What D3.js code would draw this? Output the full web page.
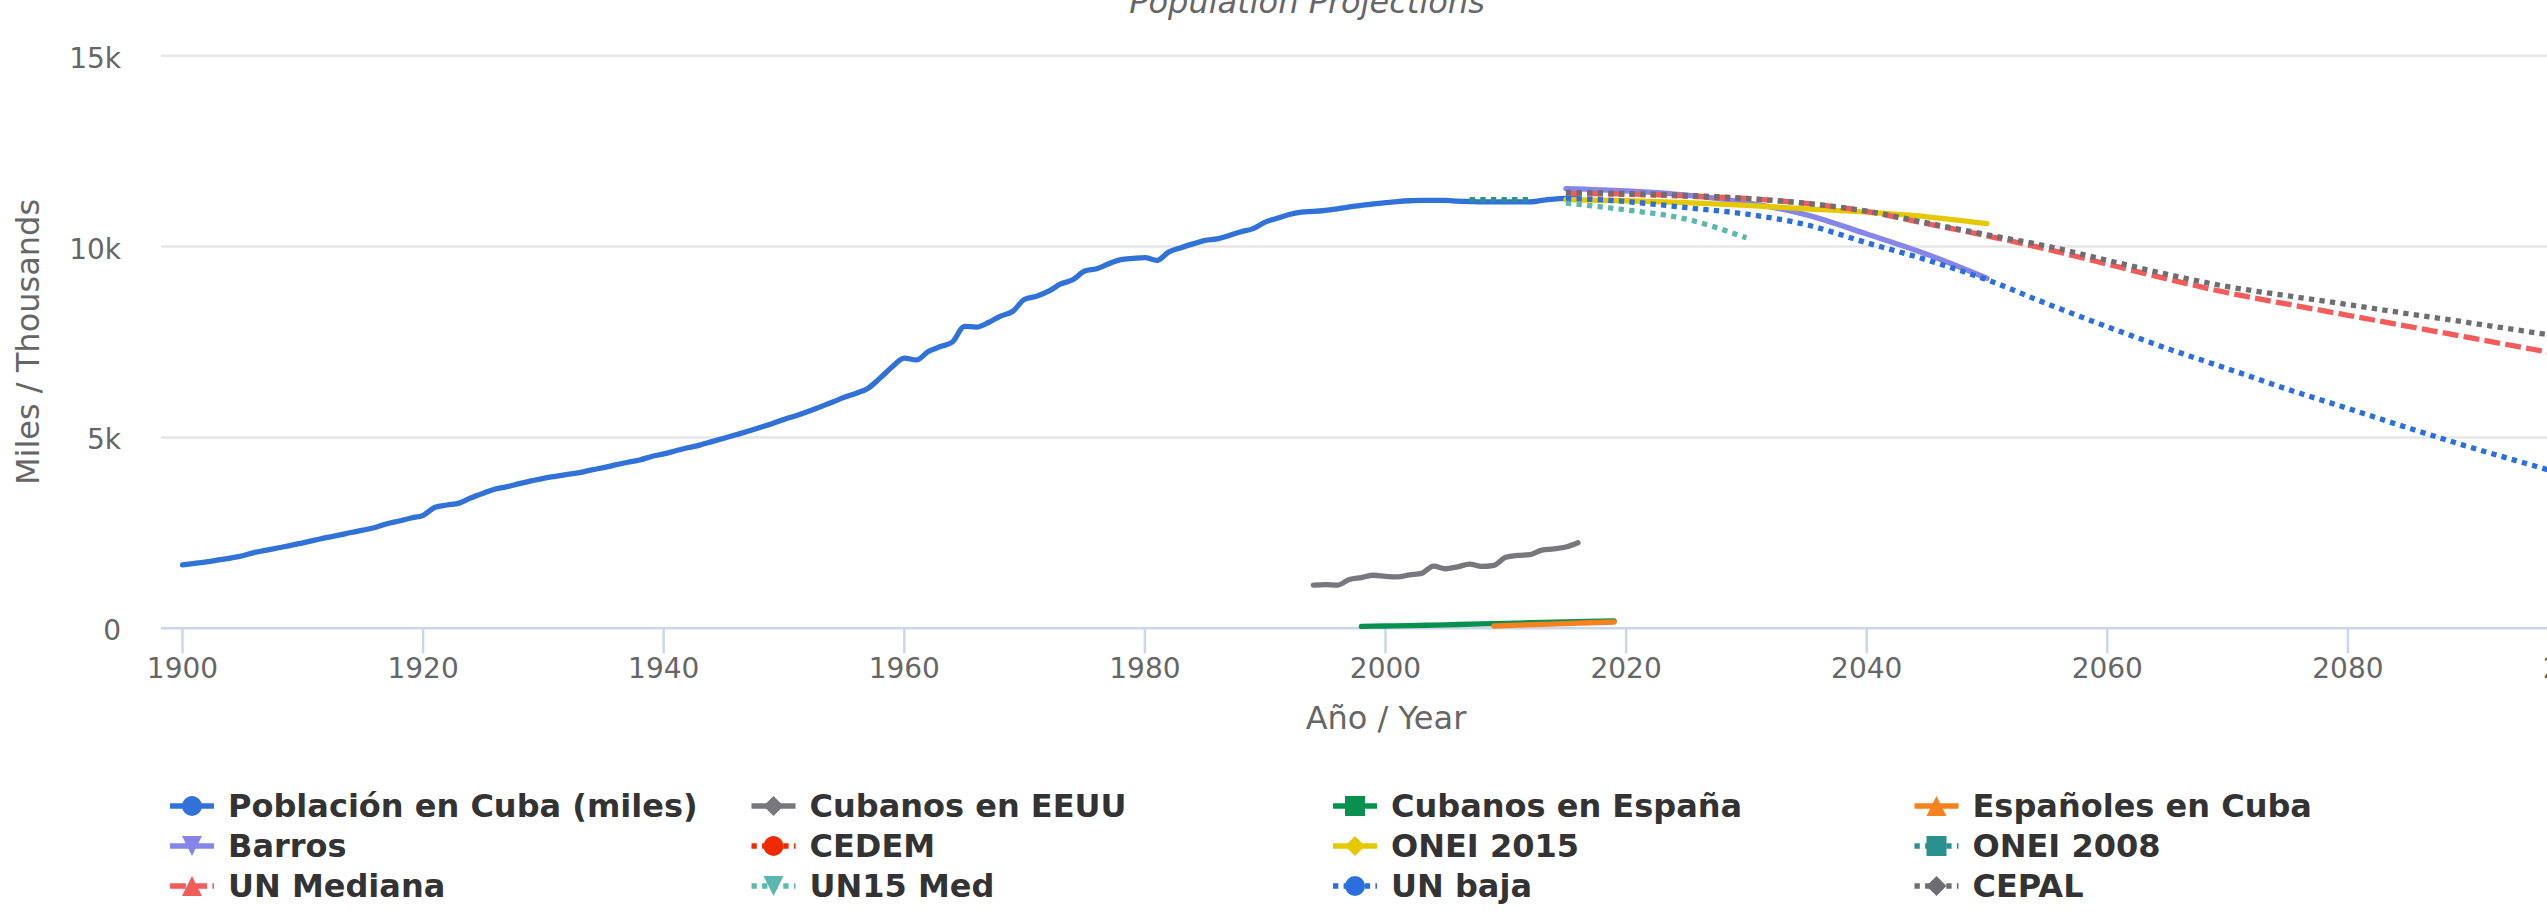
<!DOCTYPE html>
<html>
<head>
<meta charset="utf-8">
<script src="https://cdn.jsdelivr.net/npm/d3@7"></script>
<style>
  html, body { margin: 0; padding: 0; background: #ffffff; overflow: hidden; }
  svg { display: block; font-family: "DejaVu Sans", Verdana, sans-serif; }
</style>
</head>
<body>
<svg id="chart" width="2547" height="917"></svg>
<script>
// ---------------- DATA ----------------
const chartTitle = "Population Projections";
const xAxisTitle = "Año / Year";
const yAxisTitle = "Miles / Thousands";
const xTicks = [1900, 1920, 1940, 1960, 1980, 2000, 2020, 2040, 2060, 2080, 2100];
const yTicks = [0, 5000, 10000, 15000];
const yTickLabels = ["0", "5k", "10k", "15k"];

const poblacionCuba = [
  [1900,1660],[1901,1700],[1902,1740],[1903,1790],[1904,1840],[1905,1900],[1906,1990],[1907,2050],[1908,2110],[1909,2170],
  [1910,2240],[1911,2310],[1912,2380],[1913,2440],[1914,2510],[1915,2570],[1916,2640],[1917,2740],[1918,2810],[1919,2890],
  [1920,2960],[1921,3170],[1922,3230],[1923,3280],[1924,3420],[1925,3540],[1926,3650],[1927,3710],[1928,3790],[1929,3860],
  [1930,3930],[1931,3980],[1932,4030],[1933,4080],[1934,4150],[1935,4210],[1936,4280],[1937,4350],[1938,4410],[1939,4500],
  [1940,4570],[1941,4650],[1942,4730],[1943,4800],[1944,4890],[1945,4980],[1946,5070],[1947,5160],[1948,5260],[1949,5360],
  [1950,5470],[1951,5570],[1952,5680],[1953,5800],[1954,5920],[1955,6050],[1956,6160],[1957,6290],[1958,6560],[1959,6850],
  [1960,7080],[1961,7030],[1962,7250],[1963,7380],[1964,7500],[1965,7910],[1966,7890],[1967,8010],[1968,8180],[1969,8300],
  [1970,8620],[1971,8700],[1972,8830],[1973,9020],[1974,9130],[1975,9360],[1976,9420],[1977,9550],[1978,9660],[1979,9690],
  [1980,9710],[1981,9640],[1982,9860],[1983,9970],[1984,10070],[1985,10160],[1986,10200],[1987,10290],[1988,10390],[1989,10470],
  [1990,10640],[1991,10740],[1992,10840],[1993,10900],[1994,10920],[1995,10950],[1996,10990],[1997,11040],[1998,11080],[1999,11120],
  [2000,11150],[2001,11180],[2002,11200],[2003,11210],[2004,11210],[2005,11210],[2006,11190],[2007,11180],[2008,11170],[2009,11170],
  [2010,11170],[2011,11170],[2012,11170],[2013,11210],[2014,11240],[2015,11260],[2016,11270]
];
const cubanosEEUU = [
  [1994,1130],[1995,1145],[1996,1130],[1997,1280],[1998,1330],[1999,1390],[2000,1360],[2001,1345],[2002,1400],[2003,1440],
  [2004,1630],[2005,1560],[2006,1610],[2007,1680],[2008,1620],[2009,1650],[2010,1860],[2011,1910],[2012,1930],[2013,2050],
  [2014,2080],[2015,2130],[2016,2240]
];
const cubanosEspana = [
  [1998,50],[2000,60],[2002,70],[2004,85],[2006,100],[2008,115],[2010,130],[2012,145],[2014,160],[2016,175],[2018,190],[2019,195]
];
const espanolesCuba = [
  [2009,60],[2011,85],[2013,105],[2015,125],[2017,145],[2019,165]
];
const barros = [
  [2015,11520],[2020,11460],[2025,11350],[2030,11150],[2035,10830],[2040,10330],[2045,9800],[2050,9170]
];
const cedem = [
  [2015,11390],[2020,11370],[2025,11320],[2030,11250]
];
const onei2015 = [
  [2015,11230],[2020,11200],[2025,11150],[2030,11080],[2035,10990],[2040,10900],[2045,10780],[2050,10600]
];
const onei2008 = [
  [2007,11230],[2008,11230],[2009,11230],[2010,11230],[2011,11230],[2012,11230]
];
const unMediana = [
  [2015,11390],[2020,11380],[2025,11330],[2030,11260],[2035,11130],[2040,10920],[2045,10600],[2050,10280],[2055,9930],
  [2060,9540],[2065,9150],[2070,8790],[2075,8490],[2080,8200],[2085,7910],[2090,7620],[2095,7330],[2100,7040]
];
const un15Med = [
  [2015,11140],[2020,10960],[2025,10720],[2030,10230]
];
const unBaja = [
  [2015,11270],[2020,11180],[2025,11020],[2030,10850],[2035,10570],[2040,10100],[2045,9650],[2050,9130],[2055,8500],
  [2060,7900],[2065,7330],[2070,6800],[2075,6260],[2080,5760],[2085,5250],[2090,4760],[2095,4300],[2100,3850]
];
const cepal = [
  [2015,11420],[2020,11390],[2025,11340],[2030,11260],[2035,11130],[2040,10930],[2045,10620],[2050,10310],[2055,10010],
  [2060,9640],[2065,9270],[2070,8950],[2075,8710],[2080,8480],[2085,8240],[2090,8010],[2095,7770],[2100,7540]
];

const seriesNames = ["Población en Cuba (miles)", "Cubanos en EEUU", "Cubanos en España", "Españoles en Cuba",
  "Barros", "CEDEM", "ONEI 2015", "ONEI 2008", "UN Mediana", "UN15 Med", "UN baja", "CEPAL"];
const seriesData = [poblacionCuba, cubanosEEUU, cubanosEspana, espanolesCuba, barros, cedem, onei2015, onei2008,
  unMediana, un15Med, unBaja, cepal];
const seriesColors = ["#3172d9", "#77777c", "#08914e", "#f5821f", "#8686ea", "#f02a00", "#e5c900", "#2a918e",
  "#f45b5b", "#5cb8ae", "#2a6fdb", "#6e6e72"];
const seriesDash = ["solid", "solid", "solid", "solid", "solid", "dot", "solid", "dot", "dash", "dot", "dot", "dot"];
const seriesMarker = ["circle", "diamond", "square", "triangle", "triangle-down", "circle", "diamond", "square",
  "triangle", "triangle-down", "circle", "diamond"];

// ---------------- LAYOUT ----------------
const W = 2547, H = 917;
const chartWidth = 2614;           // original chart is wider than the viewport
const plotLeft = 161, plotRight = 2588.5;
const lineW = 5.3;
const dashArr = { solid: null, dot: "5.3,5.3", dash: "15.9,5.3" };

const svg = d3.select("#chart");
const x = d3.scaleLinear().domain([1900, 2100]).range([182.5, 2588.5]);
const y = d3.scaleLinear().domain([0, 15000]).range([628.3, 55.7]);

// grid lines
svg.append("g").selectAll("line").data(yTicks.filter(d => d > 0)).join("line")
  .attr("x1", plotLeft).attr("x2", plotRight)
  .attr("y1", d => y(d)).attr("y2", d => y(d))
  .attr("stroke", "#e6e6e6").attr("stroke-width", 2.5);

// y tick labels
svg.append("g").selectAll("text").data(yTicks).join("text")
  .attr("x", 121).attr("y", d => y(d) + 12)
  .attr("text-anchor", "end").attr("fill", "#666666").attr("font-size", 28)
  .text((d, i) => yTickLabels[i]);

// x axis line and ticks
svg.append("line").attr("x1", plotLeft).attr("x2", plotRight)
  .attr("y1", y(0)).attr("y2", y(0)).attr("stroke", "#ccd6eb").attr("stroke-width", 2.5);
svg.append("g").selectAll("line").data(xTicks).join("line")
  .attr("x1", d => x(d)).attr("x2", d => x(d))
  .attr("y1", y(0)).attr("y2", y(0) + 25)
  .attr("stroke", "#ccd6eb").attr("stroke-width", 2.5);
const xl = svg.append("g").selectAll("text").data(xTicks).join("text")
  .attr("x", d => x(d)).attr("y", y(0) + 50)
  .attr("text-anchor", "middle").attr("fill", "#666666").attr("font-size", 28)
  .text(d => d);
// justify edge labels inside the (wider) chart
xl.each(function(d) {
  const w = this.getComputedTextLength();
  const cx = x(d);
  if (cx + w / 2 > chartWidth) d3.select(this).attr("x", chartWidth - w / 2);
});

// axis titles
svg.append("text").attr("x", 1386).attr("y", 729).attr("text-anchor", "middle")
  .attr("fill", "#666666").attr("font-size", 32).text(xAxisTitle);
svg.append("text").attr("transform", "translate(39,342) rotate(-90)").attr("text-anchor", "middle")
  .attr("fill", "#666666").attr("font-size", 32).text(yAxisTitle);

// title
svg.append("text").attr("x", 1307).attr("y", 13).attr("text-anchor", "middle")
  .attr("fill", "#666666").attr("font-size", 32).attr("font-style", "italic").text(chartTitle);

// series lines
const line = d3.line().x(d => x(d[0])).y(d => y(d[1])).curve(d3.curveMonotoneX);
const gSeries = svg.append("g");
seriesData.forEach((data, i) => {
  const p = gSeries.append("path").datum(data)
    .attr("d", line).attr("fill", "none")
    .attr("stroke", seriesColors[i]).attr("stroke-width", lineW)
    .attr("stroke-linejoin", "round");
  if (dashArr[seriesDash[i]]) p.attr("stroke-dasharray", dashArr[seriesDash[i]]).attr("stroke-linecap", "butt");
  else p.attr("stroke-linecap", "round");
});

// legend
function markerPath(type, cx, cy, r) {
  switch (type) {
    case "circle": { const p = d3.path(); p.moveTo(cx + r, cy); p.arc(cx, cy, r, 0, 2 * Math.PI); p.closePath(); return p.toString(); }
    case "square": return `M${cx - r},${cy - r}H${cx + r}V${cy + r}H${cx - r}Z`;
    case "diamond": return `M${cx},${cy - r}L${cx + r},${cy}L${cx},${cy + r}L${cx - r},${cy}Z`;
    case "triangle": return `M${cx},${cy - r}L${cx + r},${cy + r}L${cx - r},${cy + r}Z`;
    case "triangle-down": return `M${cx - r},${cy - r}L${cx + r},${cy - r}L${cx},${cy + r}Z`;
  }
}
const legendColX = [170, 751.5, 1333, 1914.5];
const legendRowY = [817, 857, 897];
const gLeg = svg.append("g");
seriesNames.forEach((name, i) => {
  const col = i % 4, row = Math.floor(i / 4);
  const x0 = legendColX[col], base = legendRowY[row], cy = base - 11;
  const l = gLeg.append("line").attr("x1", x0).attr("x2", x0 + 44).attr("y1", cy).attr("y2", cy)
    .attr("stroke", seriesColors[i]).attr("stroke-width", lineW);
  if (dashArr[seriesDash[i]]) l.attr("stroke-dasharray", dashArr[seriesDash[i]]);
  gLeg.append("path").attr("d", markerPath(seriesMarker[i], x0 + 22, cy, 10)).attr("fill", seriesColors[i]);
  gLeg.append("text").attr("x", x0 + 58).attr("y", base).attr("fill", "#333333")
    .attr("font-size", 32).attr("font-weight", "bold").text(name);
});
</script>
</body>
</html>
